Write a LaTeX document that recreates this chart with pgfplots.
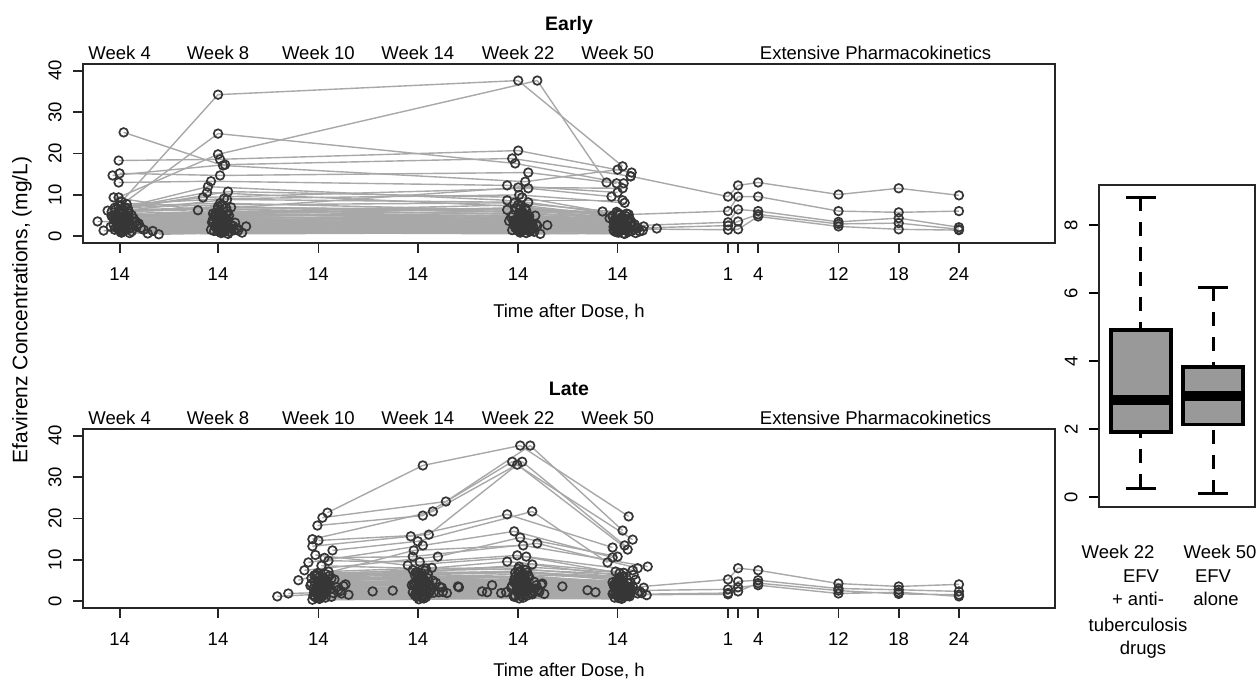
\documentclass[border=0pt]{standalone}
\usepackage{fontspec}
\setmainfont{Liberation Sans}
\usepackage{pgfplots}
\usepackage{pgfplotstable}
\pgfplotsset{compat=1.18}
\usepgfplotslibrary{statistics}
\definecolor{lineclr}{HTML}{A8A8A8}
\definecolor{ptclr}{HTML}{363636}
\definecolor{boxfill}{HTML}{999999}

% Early group: time after dose (h) and concentration (mg/L) at each visit
\pgfplotstableread{
t4 c4 t8 c8 t22 c22 t50 c50
14.2 8.4 14.0 34.2 14.0 37.6 14.5 16.9
14.1 7.5 14.0 24.8 13.7 17.6 14.6 12.8
14.4 25.1 14.5 17.1 14.7 13.2 14.0 16.1
13.9 9.4 14.0 19.8 15.9 37.6 12.9 13.0
13.9 18.3 14.2 18.6 14.0 20.7 15.4 15.4
13.3 14.7 14.7 17.3 13.4 18.8 15.3 14.5
14.0 15.2 14.2 14.7 15.0 15.4 13.9 12.8
13.9 13.0 13.3 13.3 12.9 12.3 14.0 10.6
13.4 9.4 12.0 6.3 14.0 11.8 14.5 11.6
14.5 7.0 12.5 9.4 15.0 11.6 13.4 9.6
13.6 6.5 13.0 12.0 12.9 8.7 14.5 8.7
14.8 6.8 15.0 10.8 14.4 9.4 12.5 6.0
13.2 5.9 14.9 8.9 15.0 8.2 14.2 5.2
12.8 6.2 12.9 10.6 14.2 7.2 13.5 4.8
14.3 4.8 14.1 5.6 13.8 6.9 14.3 4.1
13.7 3.2 14.4 2.9 14.2 3.5 13.8 2.7
15.1 2.1 13.9 1.8 14.6 2.4 14.1 1.9
14.0 5.4 14.8 4.4 13.5 5.1 15.0 3.6
13.5 1.6 14.2 2.2 14.9 1.7 13.6 2.3
14.6 3.9 13.6 4.7 14.1 4.2 14.7 3.1
12.4 1.4 15.2 1.2 13.9 2.0 14.4 1.5
11.8 3.6 14.5 3.1 15.3 2.8 14.9 2.6
14.9 6.1 14.0 7.2 14.4 5.8 13.2 4.4
13.8 2.6 13.4 3.4 13.6 3.0 14.6 2.0
15.4 4.3 14.7 2.6 14.8 3.8 15.3 3.3
14.2 1.1 14.3 0.8 14.0 1.3 13.9 1.0
16.8 0.7 15.6 1.5 15.6 1.1 16.2 1.2
17.9 0.5 16.4 0.9 16.2 0.6 15.8 0.8
13.9 7.3 14.2 8.0 12.9 6.4 14.0 5.6
14.4 2.9 15.0 3.8 14.3 4.6 14.2 3.0
13.6 4.5 13.8 5.2 15.1 4.9 13.7 4.0
15.7 2.4 14.6 2.0 14.7 2.2 15.6 1.7
14.1 3.5 13.7 2.4 13.8 3.2 14.8 2.9
13.3 5.0 14.9 6.1 14.5 5.5 14.4 4.6
15.0 1.9 16.0 1.4 15.4 1.8 13.9 1.4
14.5 3.0 13.5 4.1 14.2 2.6 14.3 2.2
17.3 1.3 14.4 1.1 13.4 1.5 15.1 1.1
14.7 4.0 14.1 3.6 14.9 3.9 16.6 2.4
13.1 2.3 15.3 2.7 15.8 2.9 14.5 3.5
14.3 6.6 14.0 5.9 14.0 7.6 13.5 5.0
15.3 2.7 14.8 2.3 13.7 2.1 14.0 1.8
14.0 1.7 13.3 1.6 14.4 1.9 15.4 1.3
13.7 3.8 14.5 4.9 15.2 3.4 14.1 2.8
16.1 2.0 15.5 2.5 14.1 2.5 14.9 2.1
14.8 5.7 13.9 4.0 14.6 4.4 13.8 3.8
13.4 2.8 14.2 3.2 13.1 3.7 14.6 2.5
14.1 4.6 15.1 5.0 14.8 6.2 15.2 4.3
15.5 3.3 14.3 2.1 15.5 2.3 14.2 1.6
14.6 1.5 13.6 1.3 13.9 1.6 13.7 1.2
13.8 4.1 14.7 3.9 14.3 3.1 14.4 3.2
14.4 2.2 16.8 2.4 16.9 2.7 17.9 1.9
15.9 3.1 14.0 6.6 14.7 5.3 14.8 4.9
13.5 6.9 14.4 7.6 13.6 8.1 13.9 5.9
14.2 0.9 15.0 0.6 14.2 0.9 14.6 0.7
14.9 2.5 13.8 2.8 15.0 2.0 15.5 2.3
13.9 3.4 15.4 1.9 14.5 2.9 14.0 2.6
14.7 7.8 14.6 9.1 14.1 10.0 14.7 8.1
14.0 4.4 14.1 4.5 13.3 4.7 15.0 3.9
15.2 1.2 14.9 1.7 14.9 1.4 13.6 1.5
13.6 5.2 13.5 5.5 15.7 5.0 14.3 4.2
14.5 2.0 14.2 3.0 14.0 3.3 16.0 2.0
14.3 3.7 15.7 3.3 14.4 4.0 14.5 3.4
14.1 1.0 14.5 1.0 15.2 1.2 14.1 0.9
13.2 4.9 14.0 4.3 14.6 3.6 15.7 2.9
14.8 2.4 14.3 2.0 13.9 2.4 14.9 1.8
14.0 3.0 14.1 2.5 14.3 2.8 14.2 2.4
13.6 2.1 14.6 3.5 13.8 2.3 14.5 1.9
14.9 4.7 13.7 5.3 15.0 4.5 13.9 3.7
14.3 1.3 15.1 1.1 14.6 1.5 14.8 1.4
15.6 3.6 14.2 4.2 13.6 3.9 14.3 3.0
13.9 5.9 14.8 6.9 14.2 6.6 15.1 5.3
14.6 2.6 13.9 3.0 15.4 3.1 14.0 2.2
13.4 4.2 14.4 3.7 14.0 4.4 13.6 3.5
15.0 0.8 14.0 1.2 14.8 0.8 14.7 0.6
14.2 6.4 15.3 7.0 14.4 6.0 14.2 5.4
14.7 3.3 14.5 2.7 13.7 3.4 15.3 2.7
13.8 1.9 13.8 2.2 14.9 2.2 14.0 1.7
15.2 5.1 14.3 4.8 14.1 5.6 14.6 4.4
14.1 2.3 15.9 1.9 15.9 2.5 13.8 2.1
16.4 1.6 14.6 1.4 14.3 1.2 16.5 1.4
13.5 3.9 14.0 3.3 13.5 3.7 14.4 3.6
14.4 6.0 14.9 5.4 14.7 6.8 14.9 5.5
15.8 2.9 13.5 3.6 15.3 2.6 14.1 2.4
14.8 4.5 14.2 4.6 14.5 4.1 15.4 3.4
13.9 2.0 14.7 1.7 13.9 1.8 14.5 1.6
}\early

% Early group, extensive pharmacokinetics (x: plotted position, hours after dose)
\pgfplotstableread{
x y
-8.7 14.5
1 9.6
2 12.3
4 13.0
12 10.1
18 11.6
24 9.9
nan nan
-9.8 5.2
1 6.1
2 9.6
4 9.6
12 6.1
18 5.8
24 6.1
nan nan
-9.4 2.5
1 3.4
2 6.5
4 6.1
12 3.5
18 4.4
24 2.2
nan nan
-8.0 2.0
1 2.6
2 3.6
4 5.3
12 3.0
18 3.2
24 1.7
nan nan
-10.0 1.8
1 1.6
2 1.7
4 4.8
12 2.4
18 1.7
24 1.5
}\earlypk

% Late group
\pgfplotstableread{
t10 c10 t14 c14 t22 c22 t50 c50
14.9 21.4 14.5 32.8 14.2 37.6 15.1 20.5
14.4 20.2 16.8 24.1 15.2 37.6 14.5 17.1
13.9 18.3 14.5 20.7 13.4 33.7 15.5 14.9
13.4 15.0 15.5 21.7 14.4 33.7 14.7 13.5
14.0 14.7 15.1 16.1 13.9 33.0 15.0 12.5
13.4 13.3 13.3 15.7 12.9 21.0 13.5 13.0
15.4 12.3 14.0 14.5 15.4 21.7 13.0 9.4
13.0 9.4 14.5 13.5 13.6 16.9 13.5 10.6
12.6 7.5 16.0 10.8 14.2 15.4 14.0 10.8
12.0 5.1 13.6 12.3 14.5 13.5 17.0 8.4
14.6 10.5 13.5 10.8 15.9 14.0 16.0 8.0
13.7 11.2 13.0 8.7 14.8 10.8 15.5 7.5
15.0 9.8 14.2 9.5 13.9 11.1 14.2 6.8
14.3 8.6 14.8 7.9 12.9 9.6 13.8 7.2
13.6 6.3 13.8 7.0 15.4 8.9 14.6 6.1
9.9 1.2 9.5 2.4 14.0 2.0 14.3 1.6
11.0 1.9 11.5 2.6 12.8 2.2 13.5 1.8
14.2 4.2 14.6 5.3 14.1 6.0 14.4 4.5
13.8 2.6 14.0 3.1 14.5 3.6 13.9 2.9
14.9 3.5 13.9 2.8 13.8 4.4 14.6 3.2
13.5 1.4 14.8 1.9 14.6 2.5 15.1 1.7
14.4 5.8 13.7 6.4 14.9 7.0 14.0 5.1
14.7 2.1 14.3 2.4 14.2 2.9 14.8 2.2
13.6 4.7 15.2 4.0 13.6 5.2 13.7 4.0
15.2 3.0 14.1 3.6 15.1 3.2 15.4 2.7
14.1 0.6 14.4 0.9 14.3 1.2 14.1 0.8
13.9 6.8 14.7 7.4 14.0 7.9 14.5 5.9
14.5 1.8 13.5 2.2 15.3 1.9 13.6 2.0
16.2 2.5 16.4 3.3 16.0 2.8 16.2 2.4
13.2 3.8 14.2 4.6 14.4 4.2 14.9 3.5
14.8 4.9 15.0 5.6 13.7 5.9 14.2 4.8
14.0 2.3 13.8 1.7 14.8 2.3 13.8 1.9
16.7 4.1 13.4 3.9 15.6 4.7 16.6 3.3
14.3 3.2 14.9 2.7 14.2 3.5 14.7 2.6
13.7 1.0 14.5 1.3 13.5 1.5 15.2 1.2
15.6 5.3 14.0 6.0 14.6 6.5 14.3 5.5
14.6 2.9 16.2 3.5 15.8 3.9 15.0 3.0
13.4 0.4 14.1 0.5 14.1 0.7 14.4 0.6
14.1 3.6 13.6 4.3 16.3 4.0 13.9 3.8
15.0 7.2 15.4 8.1 14.7 7.6 15.6 6.4
13.9 2.0 14.3 2.5 13.9 2.7 14.6 2.3
14.4 4.5 14.8 4.9 14.5 5.5 14.1 4.2
17.0 1.6 16.9 2.0 16.6 1.8 16.9 1.5
14.2 3.3 13.9 3.0 13.3 3.3 14.8 2.8
13.3 5.6 14.6 5.1 15.0 6.2 13.5 4.6
14.8 2.4 15.6 2.1 14.4 2.5 15.3 2.1
14.0 3.9 14.2 4.4 13.8 4.9 14.0 3.6
15.3 1.1 13.7 1.5 14.9 1.4 14.5 1.3
13.8 6.1 14.4 6.8 14.2 7.3 15.8 5.2
14.5 2.7 15.3 2.9 15.2 3.0 14.2 2.5
14.1 4.6 14.1 3.7 13.6 4.6 14.7 3.9
15.8 3.4 14.9 4.1 14.7 3.8 13.7 3.4
13.6 1.5 13.8 1.6 14.3 2.1 14.9 1.6
14.6 5.0 14.5 5.8 14.0 5.7 15.0 4.4
14.3 2.2 16.5 2.3 15.5 2.6 16.4 2.0
13.5 3.1 14.3 3.4 13.8 3.9 14.4 3.1
14.9 4.4 14.0 4.8 14.8 5.0 13.8 4.1
16.5 3.7 15.8 4.5 16.4 4.3 15.5 3.7
14.0 0.8 14.6 0.7 14.5 0.9 14.3 1.0
14.7 6.6 13.5 7.6 14.1 8.4 14.6 6.9
13.9 1.7 14.2 2.0 11.4 3.9 14.0 1.4
14.4 2.8 18.0 3.6 10.4 2.4 11.0 2.7
14.2 3.4 18.1 3.4 10.9 2.2 11.8 2.2
15.1 4.0 14.7 4.2 18.4 3.6 15.2 3.3
13.7 2.5 14.9 2.6 12.3 2.0 14.8 2.9
14.5 5.2 14.1 5.5 14.6 4.8 14.1 4.7
14.0 1.3 13.9 1.1 13.7 1.3 14.7 1.1
14.0 3.0 14.1 3.2 14.0 3.4 14.3 2.8
14.8 4.1 13.8 4.7 14.7 4.6 14.9 3.7
13.6 2.2 14.6 2.8 13.9 2.4 14.1 2.1
15.3 5.5 14.4 6.2 15.1 5.8 13.9 4.9
14.2 1.5 15.1 1.8 14.4 1.6 14.7 1.5
13.8 6.4 14.0 7.1 13.7 6.9 14.5 6.0
14.5 3.7 13.6 3.9 14.9 4.1 15.1 3.4
16.0 2.8 15.2 2.5 15.7 3.1 14.0 2.4
13.3 4.3 14.3 4.4 14.2 4.7 14.6 4.0
14.7 0.9 14.8 1.0 13.6 1.1 13.7 0.9
14.1 5.9 14.2 5.2 14.6 5.4 15.3 4.5
15.5 2.0 13.9 2.3 15.2 2.1 14.4 1.8
13.9 4.8 15.5 5.0 14.1 5.3 14.2 4.3
14.6 3.3 14.0 3.5 13.4 3.8 14.8 3.1
16.3 1.9 16.1 2.2 16.1 2.3 16.0 1.9
14.3 4.6 14.7 4.9 14.8 4.4 13.6 3.9
13.7 2.9 14.3 2.6 14.3 2.9 14.5 2.5
15.1 6.2 15.0 6.6 14.0 7.1 14.1 5.7
14.4 1.2 14.5 1.4 15.4 1.7 15.0 1.3
14.9 3.9 13.7 4.1 14.5 4.3 14.3 3.5
}\late

\pgfplotstableread{
x y
-9.4 3.2
1 5.3
2 8.0
4 7.5
12 4.3
18 3.6
24 4.1
nan nan
-9.3 2.6
1 2.9
2 4.8
4 5.1
12 3.1
18 2.8
24 2.4
nan nan
-9.1 1.6
1 1.7
2 3.4
4 3.9
12 1.9
18 2.2
24 1.2
nan nan
-8.9 1.7
1 2.0
2 2.4
4 4.4
12 2.6
18 1.8
24 1.6
}\latepk

\pgfplotsset{
  panel/.style={
    scale only axis, width=972pt, height=179pt,
    xmin=-63.25, xmax=33.57, ymin=-1.6, ymax=41.6,
    xtick={-59.6,-49.8,-39.8,-29.9,-19.9,-10,1,2,4,12,18,24},
    xticklabels={14,14,14,14,14,14,1,,4,12,18,24},
    ytick={0,10,20,30,40},
    xtick pos=left, ytick pos=left, tick align=outside,
    major tick length=10pt,
    tick style={line width=1.8pt, black!85},
    axis line style={line width=1.8pt, black!85},
    yticklabel style={rotate=90, anchor=south},
    yticklabel shift=5pt, xticklabel shift=8pt,
    clip=false,
    /pgf/number format/assume math mode=true,
  },
  lines/.style={lineclr, line width=1.4pt, no markers},
  pts/.style={only marks, mark=o, mark size=4.3pt, mark options={draw=ptclr, line width=1.7pt}},
}

\begin{document}
\fontsize{18.5}{22}\selectfont
\begin{tikzpicture}
\path[use as bounding box] (0,0) rectangle (1259pt,680pt);

% ---------- Early ----------
\begin{axis}[panel, at={(83pt,437pt)}, anchor=south west]
\addplot[lines, quiver={u=\thisrow{t8}-\thisrow{t4}+9.8, v=\thisrow{c8}-\thisrow{c4}}] table[x expr=\thisrow{t4}-73.6, y=c4] {\early};
\addplot[lines, quiver={u=\thisrow{t22}-\thisrow{t8}+29.9, v=\thisrow{c22}-\thisrow{c8}}] table[x expr=\thisrow{t8}-63.8, y=c8] {\early};
\addplot[lines, quiver={u=\thisrow{t50}-\thisrow{t22}+9.9, v=\thisrow{c50}-\thisrow{c22}}] table[x expr=\thisrow{t22}-33.9, y=c22] {\early};
\addplot[lines, unbounded coords=jump] table[x=x, y=y] {\earlypk};
\addplot[pts] table[x expr=\thisrow{t4}-73.6, y=c4] {\early};
\addplot[pts] table[x expr=\thisrow{t8}-63.8, y=c8] {\early};
\addplot[pts] table[x expr=\thisrow{t22}-33.9, y=c22] {\early};
\addplot[pts] table[x expr=\thisrow{t50}-24, y=c50] {\early};
\addplot[pts] table[x=x, y=y] {\earlypk};
\node[anchor=base, font=\fontsize{19.5}{23}\selectfont\bfseries, yshift=33pt] at (rel axis cs:0.5,1) {Early};
\node[anchor=base, yshift=4pt] at (axis cs:-59.6,41.6) {Week 4};
\node[anchor=base, yshift=4pt] at (axis cs:-49.8,41.6) {Week 8};
\node[anchor=base, yshift=4pt] at (axis cs:-39.8,41.6) {Week 10};
\node[anchor=base, yshift=4pt] at (axis cs:-29.9,41.6) {Week 14};
\node[anchor=base, yshift=4pt] at (axis cs:-19.9,41.6) {Week 22};
\node[anchor=base, yshift=4pt] at (axis cs:-10,41.6) {Week 50};
\node[anchor=base, yshift=4pt] at (axis cs:15.7,41.6) {Extensive Pharmacokinetics};
\node[anchor=base, yshift=-75pt] at (rel axis cs:0.5,0) {Time after Dose, h};
\end{axis}

% ---------- Late ----------
\begin{axis}[panel, at={(83pt,72pt)}, anchor=south west]
\addplot[lines, quiver={u=\thisrow{t14}-\thisrow{t10}+9.9, v=\thisrow{c14}-\thisrow{c10}}] table[x expr=\thisrow{t10}-53.8, y=c10] {\late};
\addplot[lines, quiver={u=\thisrow{t22}-\thisrow{t14}+10, v=\thisrow{c22}-\thisrow{c14}}] table[x expr=\thisrow{t14}-43.9, y=c14] {\late};
\addplot[lines, quiver={u=\thisrow{t50}-\thisrow{t22}+9.9, v=\thisrow{c50}-\thisrow{c22}}] table[x expr=\thisrow{t22}-33.9, y=c22] {\late};
\addplot[lines, unbounded coords=jump] table[x=x, y=y] {\latepk};
\addplot[pts] table[x expr=\thisrow{t10}-53.8, y=c10] {\late};
\addplot[pts] table[x expr=\thisrow{t14}-43.9, y=c14] {\late};
\addplot[pts] table[x expr=\thisrow{t22}-33.9, y=c22] {\late};
\addplot[pts] table[x expr=\thisrow{t50}-24, y=c50] {\late};
\addplot[pts] table[x=x, y=y] {\latepk};
\node[anchor=base, font=\fontsize{19.5}{23}\selectfont\bfseries, yshift=33pt] at (rel axis cs:0.5,1) {Late};
\node[anchor=base, yshift=4pt] at (axis cs:-59.6,41.6) {Week 4};
\node[anchor=base, yshift=4pt] at (axis cs:-49.8,41.6) {Week 8};
\node[anchor=base, yshift=4pt] at (axis cs:-39.8,41.6) {Week 10};
\node[anchor=base, yshift=4pt] at (axis cs:-29.9,41.6) {Week 14};
\node[anchor=base, yshift=4pt] at (axis cs:-19.9,41.6) {Week 22};
\node[anchor=base, yshift=4pt] at (axis cs:-10,41.6) {Week 50};
\node[anchor=base, yshift=4pt] at (axis cs:15.7,41.6) {Extensive Pharmacokinetics};
\node[anchor=base, yshift=-69pt] at (rel axis cs:0.5,0) {Time after Dose, h};
\end{axis}

\node[rotate=90, font=\fontsize{21}{25}\selectfont] at (22pt,370pt) {Efavirenz Concentrations, (mg/L)};

% ---------- Box plot ----------
\begin{axis}[at={(1099pt,173pt)}, anchor=south west, scale only axis,
  width=156pt, height=322pt,
  xmin=0.417, xmax=2.583, ymin=-0.294, ymax=9.176,
  xtick=\empty, ytick={0,2,4,6,8}, ytick pos=left,
  tick align=outside, major tick length=10pt,
  tick style={line width=1.5pt, black},
  axis line style={line width=1.5pt, black!85},
  yticklabel style={rotate=90, anchor=south},
  yticklabel shift=5pt,
  boxplot/draw direction=y,
  clip=false, /pgf/number format/assume math mode=true]
\addplot[black, line width=3pt, dash pattern=on 14pt off 11pt] coordinates {(1,8.82) (1,4.91)};
\addplot[black, line width=3pt, dash pattern=on 14pt off 11pt] coordinates {(1,0.26) (1,1.91)};
\addplot[black, line width=3pt, dash pattern=on 14pt off 11pt] coordinates {(2,6.17) (2,3.82)};
\addplot[black, line width=3pt, dash pattern=on 14pt off 11pt] coordinates {(2,0.09) (2,2.14)};
\addplot[black, line width=3pt] coordinates {(0.79,8.82) (1.21,8.82)};
\addplot[black, line width=3pt] coordinates {(0.79,0.26) (1.21,0.26)};
\addplot[black, line width=3pt] coordinates {(1.79,6.17) (2.21,6.17)};
\addplot[black, line width=3pt] coordinates {(1.79,0.09) (2.21,0.09)};
\addplot[draw=black, fill=boxfill, line width=3.3pt,
  boxplot prepared={draw position=1, lower whisker=1.91, lower quartile=1.91,
    median=2.85, upper quartile=4.91, upper whisker=4.91, box extend=0.83,
    whisker extend=0, every whisker/.style={draw=none},
    every median/.style={line width=10pt}}] coordinates {};
\addplot[draw=black, fill=boxfill, line width=3.3pt,
  boxplot prepared={draw position=2, lower whisker=2.14, lower quartile=2.14,
    median=2.97, upper quartile=3.82, upper whisker=3.82, box extend=0.83,
    whisker extend=0, every whisker/.style={draw=none},
    every median/.style={line width=10pt}}] coordinates {};
\end{axis}

\node[anchor=base] at (1118pt,121pt) {Week 22};
\node[anchor=base] at (1141pt,97pt) {EFV};
\node[anchor=base] at (1138pt,74pt) {+ anti-};
\node[anchor=base] at (1138pt,48pt) {tuberculosis};
\node[anchor=base] at (1143pt,25pt) {drugs};
\node[anchor=base] at (1220pt,121pt) {Week 50};
\node[anchor=base] at (1213pt,97pt) {EFV};
\node[anchor=base] at (1216pt,74pt) {alone};
\end{tikzpicture}
\end{document}
